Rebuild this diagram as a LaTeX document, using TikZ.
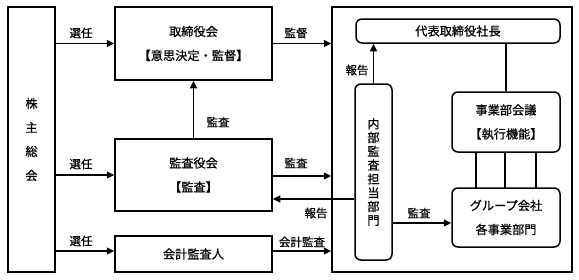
\documentclass[tikz,border=0pt]{standalone}
\usepackage{fontspec}
\setmainfont{Noto Sans CJK JP}[FakeBold=0.6]
\usetikzlibrary{arrows.meta}
\begin{document}
\begin{tikzpicture}[x=1pt,y=-1pt,
  box/.style={draw,line width=1.5pt,rectangle,inner sep=0pt,align=center,font=\fontsize{12.2}{24}\selectfont},
  rbox/.style={box,rounded corners=6pt},
  lbl/.style={inner sep=0pt,font=\fontsize{11.5}{13}\selectfont},
  arr/.style={line width=1.5pt,-{Triangle[length=7.5pt,width=7pt]}},
  ln/.style={line width=1.5pt}]
\useasboundingbox (0,0) rectangle (579,279);
\node[box,minimum width=47pt,minimum height=265pt] (sh) at (31.5,139.5) {株\\主\\総\\会};
\node[box,minimum width=157pt,minimum height=73pt] (bd) at (193.5,43.5) {取締役会\\【意思決定・監督】};
\node[box,minimum width=157pt,minimum height=72pt] (ab) at (193.5,175) {監査役会\\【監査】};
\node[box,minimum width=157pt,minimum height=36pt] (ac) at (193.5,254) {会計監査人};
\node[box,minimum width=240pt,minimum height=265pt] (co) at (452,139.5) {};
\node[rbox,minimum width=204pt,minimum height=24pt] (pr) at (458,31) {代表取締役社長};
\node[rbox,minimum width=37pt,minimum height=176pt,font=\fontsize{12.2}{13.8}\selectfont] (ia) at (373.5,172) {内\\部\\監\\査\\担\\当\\部\\門};
\node[rbox,minimum width=108pt,minimum height=60pt] (mt) at (506,122) {事業部会議\\【執行機能】};
\node[rbox,minimum width=108pt,minimum height=59pt] (gr) at (506,217.5) {グループ会社\\各事業部門};
% shareholders arrows
\draw[arr] (sh.east |- bd.west) -- (bd.west);
\draw[arr] (sh.east |- ab.west) -- (ab.west);
\draw[arr] (sh.east |- 0,251) -- (ac.west |- 0,251);
\node[lbl] (l1) at (81,33) {選任};
\node[lbl] (l2) at (81,164) {選任};
\node[lbl] (l3) at (81,241) {選任};
% to board
\draw[arr] (ab.north) -- (bd.south);
\node[lbl] (l4) at (218,122) {監査};
\draw[arr] (bd.east) -- (co.west |- bd.east);
\node[lbl] (l5) at (296,33) {監督};
\draw[arr] (ab.east |- 0,176) -- (co.west |- 0,176);
\node[lbl] (l6) at (296,163) {監査};
\draw[arr] (ia.west |- 0,199) -- (ab.east |- 0,199);
\node[lbl] (l7) at (316,213) {報告};
\draw[arr] (ac.east |- 0,251) -- (co.west |- 0,251);
\node[lbl] (l8) at (302,242) {会計監査};
% inside company
\draw[arr] (ia.north) -- (ia.north |- pr.south);
\node[lbl] (l9) at (357,70) {報告};
\draw[ln] (mt.north) -- (mt.north |- pr.south);
\draw[ln] (476,152) coordinate (m1) -- (476,188) coordinate (g1);
\draw[ln] (505,152) coordinate (m2) -- (505,188) coordinate (g2);
\draw[ln] (536,152) coordinate (m3) -- (536,188) coordinate (g3);
\draw[arr] (ia.east |- 0,223) -- (gr.west |- 0,223);
\node[lbl] (l10) at (419,213) {監査};
\end{tikzpicture}
\end{document}
